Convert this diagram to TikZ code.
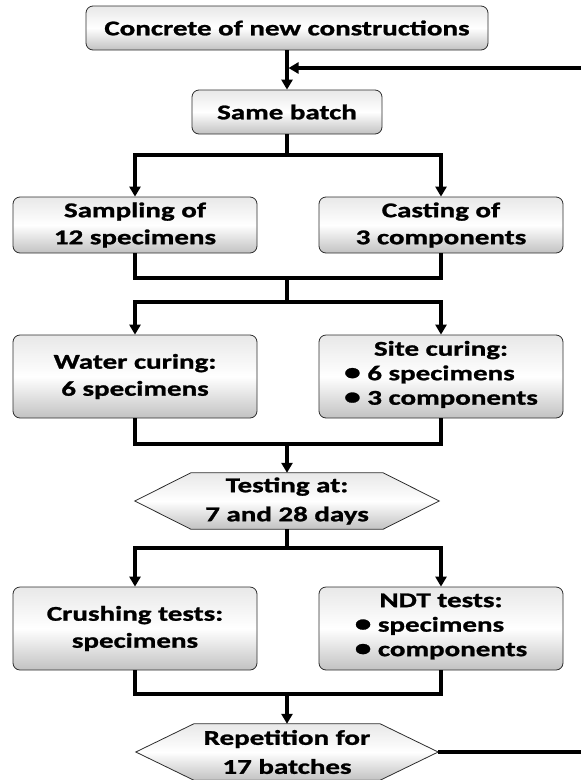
\documentclass[tikz,border=0pt]{standalone}
\usepackage{fontspec}
\usepackage{graphicx}
\setmainfont[FakeStretch=1.38,BoldFeatures={FakeBold=1.2}]{Carlito}
\usetikzlibrary{arrows.meta,backgrounds}
\newcommand{\bigbul}{\raisebox{0.3pt}{\scalebox{1.15}{\textbullet}}\ }
\begin{document}
\begin{tikzpicture}[x=1pt,y=-1pt,
  txt/.style={align=center, font=\fontsize{21}{27}\selectfont\bfseries, inner sep=0pt},
  box/.style={txt, draw=gray!35!black, line width=0.8pt, rounded corners=7pt,
    top color=gray!18, bottom color=gray!48, middle color=white},
  listbox/.style={box, font=\fontsize{21}{24.5}\selectfont\bfseries},
  hexbox/.style={draw=gray!35!black, line width=0.8pt,
    top color=gray!18, bottom color=gray!48, middle color=white},
  conn/.style={line width=3.2pt},
  arr/.style={conn, -{Triangle[length=10pt,width=11pt]}},
]
\clip (0,0) rectangle (581,780);

\node[box, minimum width=402pt, minimum height=44pt] (b1) at (287,28) {Concrete of new constructions};
\node[box, minimum width=190pt, minimum height=44pt] (b2) at (287,112) {Same batch};
\node[box, minimum width=244pt, minimum height=56pt] (b3) at (135,225) {Sampling of\\12 specimens};
\node[box, minimum width=244pt, minimum height=56pt] (b4) at (441,225) {Casting of\\3 components};
\node[box, minimum width=244pt, minimum height=83pt] (b5) at (135,376.5) {Water curing:\\6 specimens};
\node[listbox, minimum width=244pt, minimum height=83pt] (b6) at (441,376.5)
  {Site curing:\\\begin{tabular}[t]{@{}l@{}}\bigbul 6 specimens\\\bigbul 3 components\end{tabular}};
\node[txt, minimum width=304pt, minimum height=56pt, font=\fontsize{21}{29}\selectfont\bfseries] (h1) at (287,501) {Testing at:\\7 and 28 days};
\node[box, minimum width=244pt, minimum height=83pt] (b7) at (135,628.5) {Crushing tests:\\specimens};
\node[listbox, minimum width=244pt, minimum height=83pt] (b8) at (441,628.5)
  {NDT tests:\\\begin{tabular}[t]{@{}l@{}}\bigbul specimens\\\bigbul components\end{tabular}};
\node[txt, minimum width=302pt, minimum height=56pt, font=\fontsize{21}{29}\selectfont\bfseries] (h2) at (287,752) {Repetition for\\17 batches};

\begin{scope}[on background layer]
\path[hexbox] (h1.west) -- ([xshift=56pt]h1.north west) -- ([xshift=-56pt]h1.north east) -- (h1.east)
  -- ([xshift=-56pt]h1.south east) -- ([xshift=56pt]h1.south west) -- cycle;
\path[hexbox] (h2.west) -- ([xshift=58pt]h2.north west) -- ([xshift=-58pt]h2.north east) -- (h2.east)
  -- ([xshift=-58pt]h2.south east) -- ([xshift=58pt]h2.south west) -- cycle;
\end{scope}

% top
\draw[arr] (b1.south) -- (b2.north);
\coordinate (fbr) at (620,752);
\coordinate (fbt) at (620,68);
\coordinate (fbtip) at (288.5,68);
\draw[conn] (h2.east) -- (fbr) -- (fbt);
\draw[arr] (fbt) -- (fbtip);

% split 1
\coordinate (s1) at (287,155);
\draw[conn] (b2.south) -- (s1);
\draw[arr] (s1) -| (b3.north);
\draw[arr] (s1) -| (b4.north);

% merge 1 / split 2
\coordinate (m1) at (287,278);
\coordinate (s2) at (287,302);
\draw[conn] (b3.south) |- (m1) -| (b4.south);
\draw[conn] (m1) -- (s2);
\draw[arr] (s2) -| (b5.north);
\draw[arr] (s2) -| (b6.north);

% merge 2
\coordinate (m2) at (287,444);
\draw[conn] (b5.south) |- (m2) -| (b6.south);
\draw[arr] (m2) -- (h1.north);

% split 3
\coordinate (s3) at (287,548);
\draw[conn] (h1.south) -- (s3);
\draw[arr] (s3) -| (b7.north);
\draw[arr] (s3) -| (b8.north);

% merge 3
\coordinate (m3) at (287,694);
\draw[conn] (b7.south) |- (m3) -| (b8.south);
\draw[arr] (m3) -- (h2.north);
\end{tikzpicture}
\end{document}
